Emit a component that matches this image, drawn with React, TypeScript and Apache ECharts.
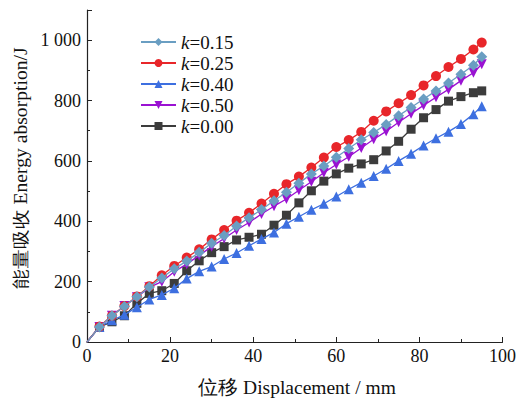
import React, { useEffect, useRef } from "react";
import * as echarts from "echarts";

const displacement = [0, 3, 6, 9, 12, 15, 18, 21, 24, 27, 30, 33, 36, 39, 42, 45, 48, 51, 54, 57, 60, 63, 66, 69, 72, 75, 78, 81, 84, 87, 90, 93, 95];

const k015 = [0, 50, 87, 118, 150, 182, 212, 243, 268, 297, 327, 353, 384, 412, 439, 468, 496, 526, 557, 583, 612, 641, 670, 694, 721, 750, 777, 805, 832, 858, 887, 917, 945];
const k025 = [0, 51, 87, 119, 151, 185, 221, 252, 280, 307, 340, 371, 402, 428, 459, 491, 523, 548, 578, 611, 646, 669, 696, 733, 764, 791, 818, 850, 881, 911, 938, 969, 992];
const k040 = [0, 50, 72, 90, 115, 141, 156, 178, 210, 234, 250, 275, 295, 319, 341, 363, 392, 415, 438, 458, 482, 506, 528, 550, 574, 600, 624, 651, 675, 697, 722, 755, 781];
const k050 = [0, 50, 87, 119, 148, 181, 200, 233, 258, 287, 316, 343, 371, 396, 424, 450, 474, 503, 531, 561, 588, 614, 643, 672, 698, 728, 756, 784, 811, 837, 866, 892, 920];
const k000 = [0, 50, 67, 87, 128, 161, 170, 194, 236, 269, 296, 316, 338, 347, 357, 387, 420, 461, 501, 533, 557, 576, 590, 604, 633, 665, 705, 743, 770, 798, 813, 826, 832];

const seriesNames = ["k=0.15", "k=0.25", "k=0.40", "k=0.50", "k=0.00"];
const seriesValues = [k015, k025, k040, k050, k000];
const colors = ["#6a9ec2", "#e8262a", "#3d6fe0", "#9a12d2", "#3c3c3c"];
const symbols = ["diamond", "circle", "triangle", "triangle", "rect"];
const symbolRotates = [0, 0, 0, 180, 0];
const symbolSizes = [11, 10, 10, 10, 9];

const xName = "位移 Displacement / mm";
const yName = "能量吸收 Energy absorption/J";

const serif = "Liberation Serif";

export default function App() {
  const ref = useRef<HTMLDivElement>(null);
  useEffect(() => {
    if (!ref.current) return;
    const chart = echarts.init(ref.current, undefined, { renderer: "svg" });
    const series = seriesNames.map((name, i) => ({
      name,
      type: "line",
      data: displacement.map((x, j) =>
        j === 0
          ? { value: [x, seriesValues[i][j]], symbol: "none" }
          : [x, seriesValues[i][j]]
      ),
      symbol: symbols[i],
      symbolRotate: symbolRotates[i],
      symbolSize: symbolSizes[i],
      showSymbol: true,
      itemStyle: { color: colors[i] },
      lineStyle: { color: colors[i], width: 1.3 },
      z: 10 - i,
    }));
    chart.setOption({
      animation: false,
      backgroundColor: "#ffffff",
      textStyle: { fontFamily: serif },
      grid: { left: 87, right: 16, top: 10, bottom: 61, containLabel: false },
      legend: {
        orient: "vertical",
        left: 135,
        top: 27,
        itemWidth: 35,
        itemHeight: 10,
        itemGap: 1,
        data: seriesNames,
        formatter: (n: string) => "{i|k}{n|" + n.slice(1) + "}",
        textStyle: {
          fontFamily: serif,
          fontSize: 19,
          color: "#111",
          lineHeight: 20,
          rich: {
            i: { fontFamily: serif, fontSize: 19, fontStyle: "italic", color: "#111", lineHeight: 20 },
            n: { fontFamily: serif, fontSize: 19, color: "#111", lineHeight: 20 },
          },
        },
      },
      graphic: [
        {
          type: "text",
          x: 297,
          y: 387,
          style: { text: xName, font: "19.5px Liberation Serif", fill: "#111", align: "center", verticalAlign: "middle" },
        },
        {
          type: "text",
          x: 21,
          y: 168,
          rotation: Math.PI / 2,
          scaleX: 1.09,
          style: { text: yName, font: "18px Liberation Serif", fill: "#111", align: "center", verticalAlign: "middle" },
        },
      ],
      xAxis: {
        type: "value",
        min: 0,
        max: 100,
        interval: 20,
        axisLine: { onZero: false, lineStyle: { color: "#222", width: 1.2 } },
        axisTick: { inside: true, length: 5, lineStyle: { color: "#222" } },
        minorTick: { show: true, splitNumber: 2, length: 3, lineStyle: { color: "#222" } },
        splitLine: { show: false },
        axisLabel: { fontFamily: serif, fontSize: 18, color: "#111", margin: 5 },
      },
      yAxis: {
        type: "value",
        min: 0,
        max: 1100,
        interval: 200,
        axisLine: { show: true, onZero: false, lineStyle: { color: "#222", width: 1.2 } },
        axisTick: { show: true, inside: true, length: 5, lineStyle: { color: "#222" } },
        minorTick: { show: true, splitNumber: 2, length: 3, lineStyle: { color: "#222" } },
        splitLine: { show: false },
        axisLabel: {
          fontFamily: serif,
          fontSize: 18,
          color: "#111",
          margin: 6,
          showMaxLabel: false,
          formatter: (v: number) => (v >= 1000 ? "1 000" : String(v)),
        },
      },
      series,
    });
    return () => chart.dispose();
  }, []);
  return <div ref={ref} style={{ width: 519, height: 403, position: "absolute", left: 0, top: 0 }} />;
}
